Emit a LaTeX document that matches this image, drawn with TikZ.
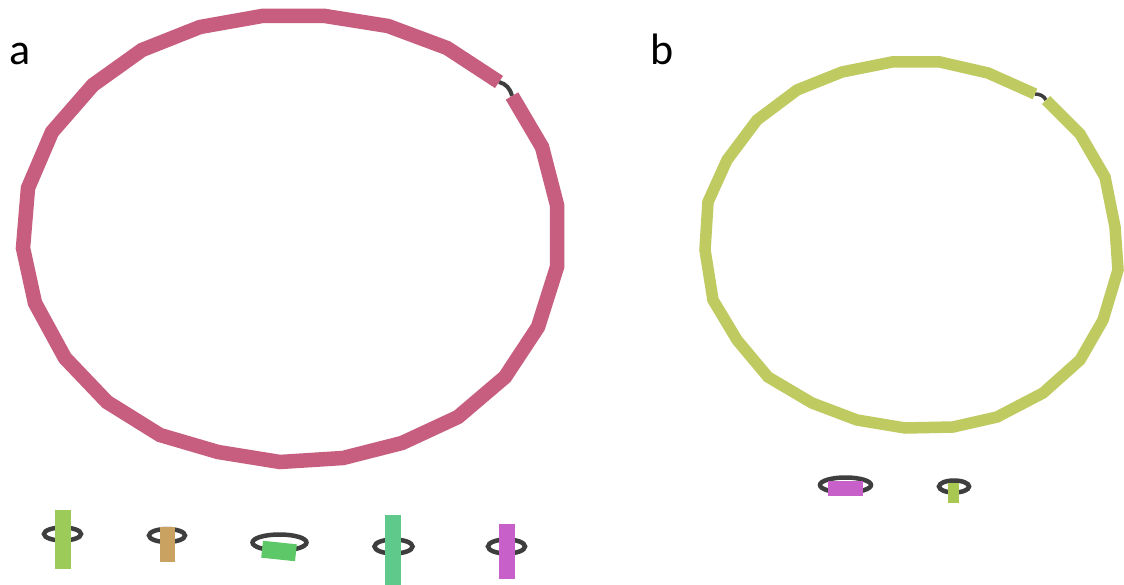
\documentclass[tikz,border=0pt]{standalone}
\usepackage{fontspec}
\setmainfont{Carlito}
\definecolor{pinkring}{RGB}{199,94,127}
\definecolor{limering}{RGB}{191,202,96}
\definecolor{loopgrey}{RGB}{62,62,62}
\definecolor{barlime}{RGB}{157,203,90}
\definecolor{bartan}{RGB}{201,161,96}
\definecolor{bargreen}{RGB}{92,200,104}
\definecolor{barteal}{RGB}{94,201,138}
\definecolor{barmag}{RGB}{199,96,200}
\definecolor{barlimeb}{RGB}{169,200,82}
\tikzset{
  ringa/.style={draw=pinkring, line width=14.5pt, line join=miter},
  ringb/.style={draw=limering, line width=11.5pt, line join=miter},
  gaparc/.style={draw=loopgrey, line width=4pt},
  loopring/.style={draw=loopgrey, line width=4.5pt},
  panellabel/.style={font=\fontsize{44}{50}\selectfont, anchor=base west, inner sep=0pt},
}
\begin{document}
\begin{tikzpicture}[x=1pt,y=-1pt]
\useasboundingbox[fill=white] (0,0) rectangle (1124,585);
% labels
\node[panellabel] (la) at (9,65) {a};
\node[panellabel] (lb) at (650,65) {b};
% ring a
\coordinate (ga1) at (499,82);
\coordinate (ga2) at (512,96);
\draw[gaparc] (ga1) .. controls (506,84) and (510,88) .. (ga2);
\draw[ringa] (ga2) -- (542,147) -- (557,205) -- (557,267) -- (538,327) -- (505,377) -- (458,417) -- (402,443) -- (343,458) -- (280,462) -- (218,452) -- (160,435) -- (107,402) -- (65,358) -- (35,303) -- (23,248) -- (28,188) -- (52,132) -- (93,85) -- (142,50) -- (200,27) -- (262,16) -- (325,16) -- (388,26) -- (447,48) -- (ga1);
% ring b
\coordinate (gb1) at (1035,94);
\coordinate (gb2) at (1046,100);
\draw[gaparc, line width=3.5pt] (gb1) .. controls (1040,94) and (1044,96) .. (gb2);
\draw[ringb] (gb2) -- (1080,134) -- (1105,177) -- (1115,227) -- (1118,270) -- (1103,320) -- (1080,360) -- (1043,393) -- (997,417) -- (953,427) -- (905,428) -- (857,420) -- (812,403) -- (768,377) -- (737,340) -- (713,300) -- (705,250) -- (708,202) -- (727,160) -- (757,120) -- (797,90) -- (842,72) -- (892,62) -- (940,62) -- (988,73) -- (gb1);
% small loops, panel a
\draw[loopring] (62.5,534) ellipse [x radius=18.5, y radius=6.5];
\fill[barlime] (55,510) rectangle (71,569);
\draw[loopring] (167,535.5) ellipse [x radius=18, y radius=6.5];
\fill[bartan] (160,527) rectangle (175,562);
\draw[loopring] (279.5,542.5) ellipse [x radius=27, y radius=8];
\fill[bargreen, rotate around={-6:(279,551)}] (262,542.5) rectangle (296,559.5);
\draw[loopring] (393.5,546.5) ellipse [x radius=19, y radius=7];
\fill[barteal] (385,515) rectangle (401,585);
\draw[loopring] (506.5,546.5) ellipse [x radius=18.5, y radius=7];
\fill[barmag] (499,524) rectangle (514.5,579);
% small loops, panel b
\draw[loopring] (845.5,485) ellipse [x radius=25.5, y radius=7.5];
\fill[barmag] (828,481) rectangle (863,496);
\draw[loopring] (954,486.5) ellipse [x radius=15, y radius=6];
\fill[barlimeb] (948,483) rectangle (959,503);
\end{tikzpicture}
\end{document}
